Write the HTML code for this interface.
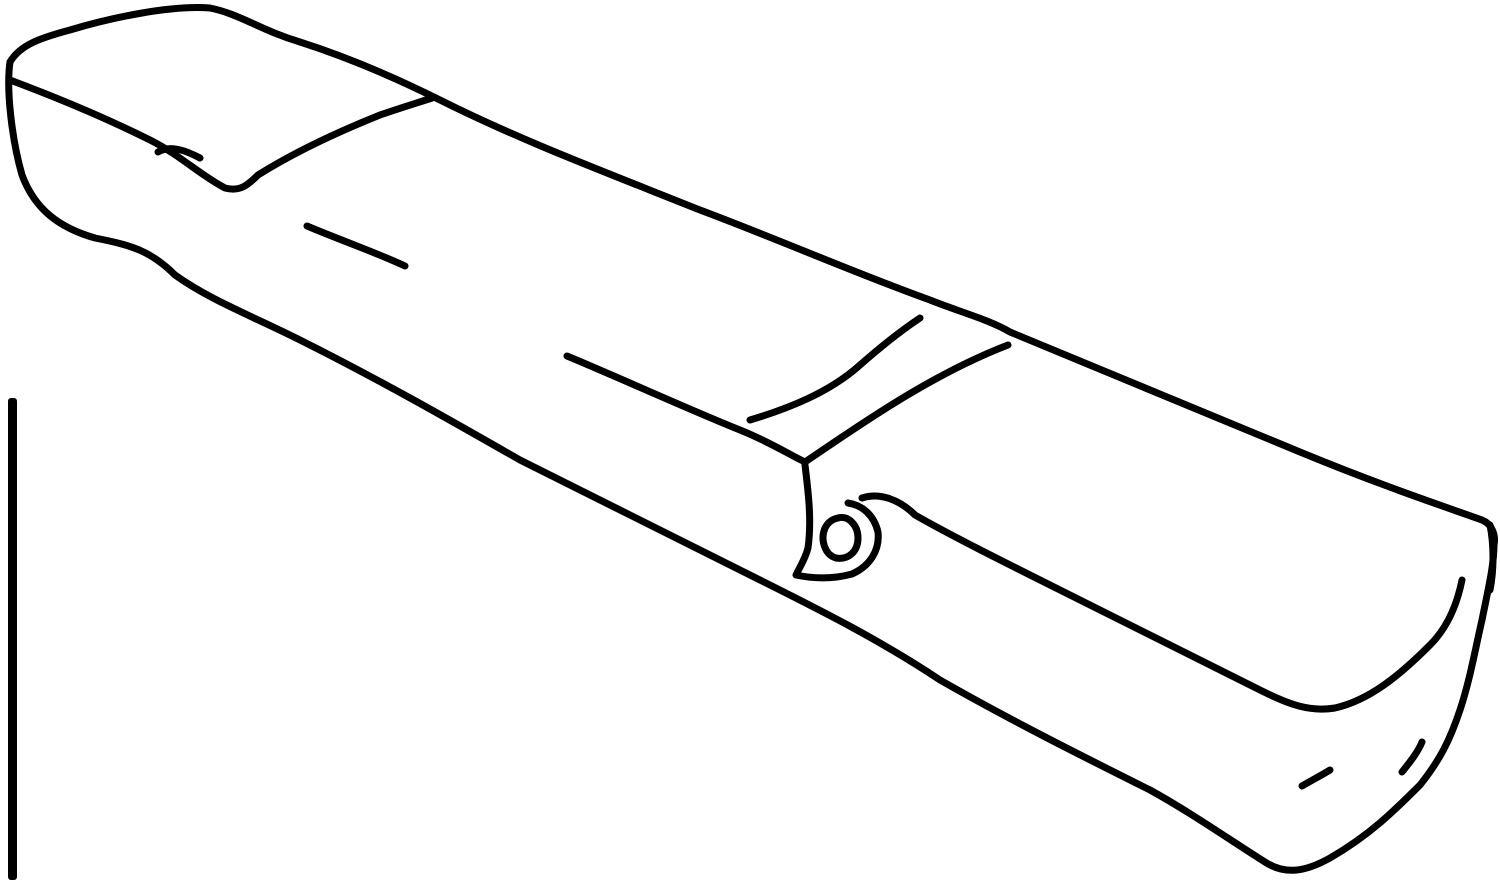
<!DOCTYPE html>
<html>
<head>
<meta charset="utf-8">
<style>
html,body{margin:0;padding:0;background:#fff;}
svg{display:block;}
</style>
</head>
<body>
<svg width="1500" height="889" viewBox="0 0 1500 889">
<g fill="none" stroke="#000" stroke-width="7" stroke-linecap="round" stroke-linejoin="round">
  <path d="M10,62 C20,45 40,38 70,30 C110,18 170,5 210,8 C240,14 260,30 300,42 C350,58 400,80 440,100 C520,140 600,170 700,210 C780,240 860,275 930,300 C960,312 990,320 1010,332 C1100,370 1200,410 1300,452 C1380,485 1440,505 1482,520 C1492,524 1496,535 1494,545"/>
  <path d="M10,62 C6,90 12,140 22,175 C35,210 60,228 95,238 C130,245 150,250 175,275 C210,300 250,315 300,340 C380,380 450,420 520,460 C600,500 680,540 760,580 C820,610 880,640 940,680 C1010,720 1080,755 1150,790 C1190,812 1230,840 1265,862 C1285,875 1305,872 1330,858 C1370,835 1395,810 1420,785 C1440,760 1450,740 1460,710 C1470,680 1475,650 1482,620 C1488,590 1494,565 1494,545"/>
  <path d="M10,80 C50,95 100,115 150,140 C180,155 200,175 225,188 C240,192 248,185 258,175 C290,155 330,135 380,115 C400,108 420,102 432,98"/>
  <path d="M158,152 C170,145 185,150 200,158"/>
  <path d="M307,226 C340,240 375,252 405,266"/>
  <path d="M567,356 C620,378 690,410 740,430 C770,442 790,455 805,462 C860,425 930,375 1008,345"/>
  <path d="M750,420 C790,408 830,392 860,365 C885,343 905,328 920,318"/>
  <path d="M805,465 C808,490 812,520 808,548 C805,560 798,570 796,575 C810,578 830,580 852,574 C870,566 880,550 878,532 C874,515 862,505 848,503"/>
  <path d="M838,518 C848,515 858,525 858,538 C858,552 848,560 836,558 C825,555 820,540 825,528 C828,522 833,519 838,518"/>
  <path d="M862,498 C880,492 900,500 915,515 C950,535 1000,560 1060,590 C1130,625 1200,660 1260,690 C1290,705 1310,712 1335,708 C1370,700 1400,675 1430,645 C1450,625 1458,600 1462,580"/>
  <path d="M1490,525 C1494,545 1494,570 1490,590"/>
  <path d="M1302,786 C1312,780 1322,775 1330,770"/>
  <path d="M1402,772 C1410,762 1418,752 1422,742"/>
</g>
<rect x="8" y="398" width="9" height="482" fill="#000" rx="3"/>
</svg>
</body>
</html>
